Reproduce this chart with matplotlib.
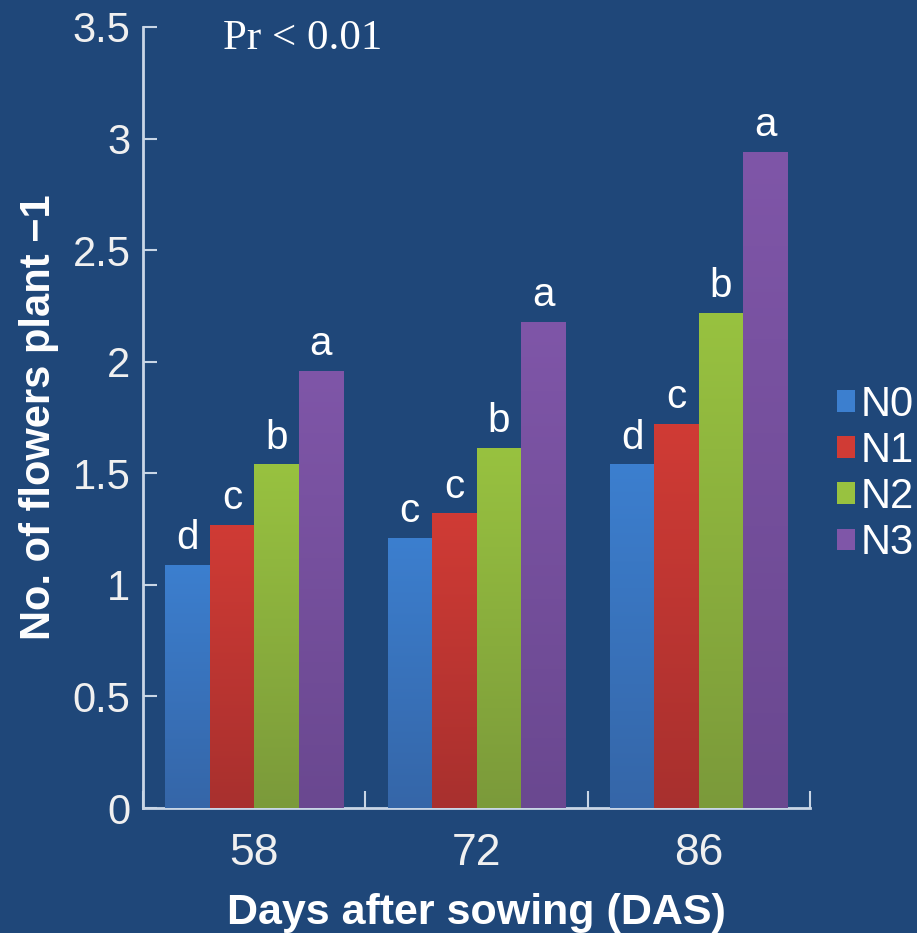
import numpy as np
import matplotlib.pyplot as plt
from matplotlib.colors import LinearSegmentedColormap

days = ['58', '72', '86']
series = ['N0', 'N1', 'N2', 'N3']
N0 = [1.09, 1.21, 1.54]
N1 = [1.27, 1.32, 1.72]
N2 = [1.54, 1.615, 2.22]
N3 = [1.96, 2.18, 2.94]
letters = [['d', 'c', 'd'], ['c', 'c', 'c'], ['b', 'b', 'b'], ['a', 'a', 'a']]

bg = '#1f4779'
tops = ['#3c7fcf', '#d03b35', '#98c240', '#7f56a8']
bottoms = ['#3566a8', '#a8302e', '#7b9a3a', '#6a4890']
axcol = '#c9d6e6'
txt = '#f0f0f0'

plt.rcParams['font.family'] = ['Liberation Sans', 'DejaVu Sans']

fig = plt.figure(figsize=(9.17, 9.33), dpi=100, facecolor=bg)
ax = fig.add_axes([143 / 917, 1 - 808 / 933, (810 - 143) / 917, (808 - 27) / 933])
ax.set_facecolor(bg)

x = np.arange(len(days))
w = 0.2
values = [N0, N1, N2, N3]
for i, (vals, name) in enumerate(zip(values, series)):
    bars = ax.bar(x + (i - 1.5) * w, vals, w, color=tops[i], label=name, zorder=2)
    cmap = LinearSegmentedColormap.from_list('g%d' % i, [bottoms[i], tops[i]])
    for b, lab in zip(bars, letters[i]):
        x0, y0 = b.get_x(), b.get_y()
        bw, bh = b.get_width(), b.get_height()
        grad = np.linspace(0, 1, 256).reshape(-1, 1)
        im = ax.imshow(grad, cmap=cmap, origin='lower', aspect='auto',
                       extent=[x0, x0 + bw, y0, y0 + bh], zorder=3)
        im.set_clip_path(b)
        ax.text(x0 + bw / 2, y0 + bh + 0.035, lab, ha='center', va='bottom',
                color='white', fontsize=29, zorder=4)

ax.set_xlim(-0.5, 2.5)
ax.set_ylim(0, 3.5)
ax.set_yticks(np.arange(0, 3.51, 0.5))
ax.set_yticklabels(['0', '0.5', '1', '1.5', '2', '2.5', '3', '3.5'])
ax.set_xticks(x)
ax.set_xticklabels(days)
ax.set_xticks([-0.5, 0.5, 1.5, 2.5], minor=True)
ax.tick_params(axis='x', which='major', length=0, labelsize=32, colors=txt, pad=18)
ax.tick_params(axis='x', which='minor', direction='in', length=12, width=1.5, color=axcol)
ax.tick_params(axis='y', direction='in', length=10, width=1.5, color=axcol,
               labelsize=30, labelcolor=txt, pad=9)

for s in ['top', 'right']:
    ax.spines[s].set_visible(False)
for s in ['left', 'bottom']:
    ax.spines[s].set_color(axcol)
    ax.spines[s].set_linewidth(2)

ax.set_xlabel('Days after sowing (DAS)', fontsize=31, fontweight='bold', color='white', labelpad=14)
ax.set_ylabel('No. of flowers plant −1', fontsize=30, fontweight='bold', color='white', labelpad=10)

ax.text(0.12, 0.985, 'Pr < 0.01', transform=ax.transAxes, fontsize=31, color='white',
        family=['Liberation Serif', 'DejaVu Serif'], va='center', ha='left')

leg = fig.legend(loc='center left', bbox_to_anchor=(837 / 917, 1 - 474 / 933), frameon=False,
                 fontsize=30, handlelength=0.42, handleheight=0.42, handletextpad=0.15,
                 labelspacing=0.15, borderpad=0, borderaxespad=0)
for t in leg.get_texts():
    t.set_color('white')

fig.savefig('out.png', dpi=100, facecolor=bg)
